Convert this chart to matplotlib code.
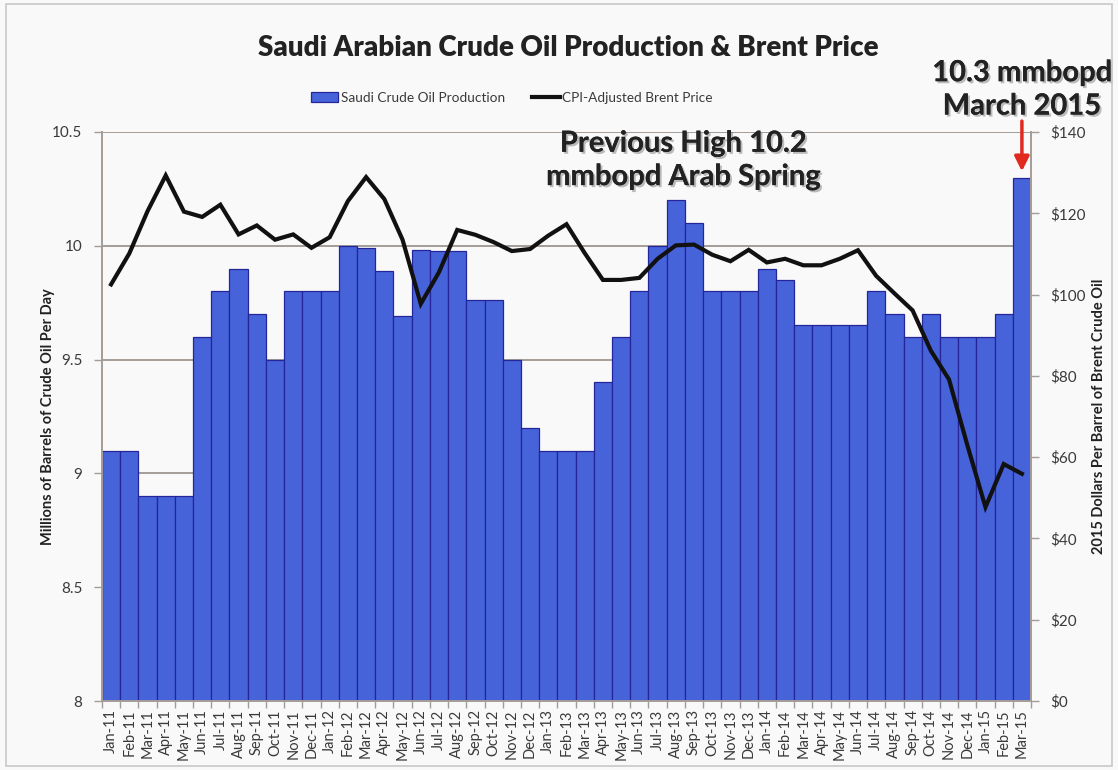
import matplotlib.pyplot as plt
import matplotlib.patheffects as pe
import numpy as np

plt.rcParams['font.family'] = ['Lato', 'DejaVu Sans']

# Data
months = [
    "Jan-11", "Feb-11", "Mar-11", "Apr-11", "May-11", "Jun-11", "Jul-11", "Aug-11",
    "Sep-11", "Oct-11", "Nov-11", "Dec-11", "Jan-12", "Feb-12", "Mar-12", "Apr-12",
    "May-12", "Jun-12", "Jul-12", "Aug-12", "Sep-12", "Oct-12", "Nov-12", "Dec-12",
    "Jan-13", "Feb-13", "Mar-13", "Apr-13", "May-13", "Jun-13", "Jul-13", "Aug-13",
    "Sep-13", "Oct-13", "Nov-13", "Dec-13", "Jan-14", "Feb-14", "Mar-14", "Apr-14",
    "May-14", "Jun-14", "Jul-14", "Aug-14", "Sep-14", "Oct-14", "Nov-14", "Dec-14",
    "Jan-15", "Feb-15", "Mar-15",
]
production = [
    9.10, 9.10, 8.90, 8.90, 8.90, 9.60, 9.80, 9.90,
    9.70, 9.50, 9.80, 9.80, 9.80, 10.00, 9.99, 9.89,
    9.69, 9.98, 9.975, 9.975, 9.76, 9.76, 9.50, 9.20,
    9.10, 9.10, 9.10, 9.40, 9.60, 9.80, 10.00, 10.20,
    10.10, 9.80, 9.80, 9.80, 9.90, 9.85, 9.65, 9.65,
    9.65, 9.65, 9.80, 9.70, 9.60, 9.70, 9.60, 9.60,
    9.60, 9.70, 10.30,
]
brent = [
    102.5, 110.1, 120.5, 129.3, 120.4, 119.1, 122.1, 114.8,
    117.0, 113.5, 114.8, 111.5, 114.1, 123.0, 128.9, 123.5,
    113.5, 97.7, 105.5, 115.9, 114.7, 112.9, 110.7, 111.2,
    114.5, 117.3, 110.2, 103.6, 103.6, 104.1, 108.8, 112.1,
    112.3, 109.8, 108.2, 111.0, 107.9, 108.8, 107.2, 107.2,
    108.8, 110.9, 104.6, 100.3, 96.1, 86.2, 79.1, 63.0,
    47.7, 58.3, 55.9,
]
left_ticks = [8, 8.5, 9, 9.5, 10, 10.5]
left_labels = ["8", "8.5", "9", "9.5", "10", "10.5"]
right_ticks = [0, 20, 40, 60, 80, 100, 120, 140]
right_labels = ["$0", "$20", "$40", "$60", "$80", "$100", "$120", "$140"]

bg = "#f9f9f9"
grid_col = "#a39c97"
text_col = "#3a3a3a"

fig = plt.figure(figsize=(11.18, 7.7), dpi=100, facecolor=bg)
# thin frame round the chart
fig.patches.append(plt.Rectangle((0.005, 0.005), 0.99, 0.99, transform=fig.transFigure,
                                 fill=False, edgecolor="#c8c8c8", linewidth=1.2))

ax = fig.add_axes([0.0912, 0.0896, 0.831, 0.739])
ax.set_facecolor(bg)
x = np.arange(len(months))
bars = ax.bar(x, production, width=1.0, color="#4763da", edgecolor="#25259a",
              linewidth=0.9, label="Saudi Crude Oil Production", zorder=2)
ax.set_xlim(-0.5, len(months) - 0.5)
ax.set_ylim(8, 10.5)
ax.set_yticks(left_ticks)
ax.set_yticklabels(left_labels, fontsize=11, color=text_col)
ax.yaxis.grid(True, color=grid_col, linewidth=1.4, zorder=0)
ax.set_axisbelow(True)
ax.set_xticks(x)
ax.set_xticklabels(months, rotation=90, fontsize=10.5, color=text_col)
ax.set_xticks(np.arange(len(months) + 1) - 0.5, minor=True)
ax.tick_params(axis="x", which="major", length=0, pad=6)
ax.tick_params(axis="x", which="minor", length=5, color=grid_col, width=1)
ax.tick_params(axis="y", length=6, color=grid_col, width=1, pad=8)
for side in ["top", "right"]:
    ax.spines[side].set_visible(False)
for side in ["left", "bottom"]:
    ax.spines[side].set_color(grid_col)
    ax.spines[side].set_linewidth(1.4)
ax.set_ylabel("Millions of Barrels of Crude Oil Per Day", fontsize=10.5,
              fontweight="bold", color="#222222", labelpad=-2)

ax2 = ax.twinx()
line, = ax2.plot(x, brent, color="#111111", linewidth=3, label="CPI-Adjusted Brent Price",
                 solid_joinstyle="miter", zorder=3)
ax2.set_ylim(0, 140)
ax2.set_yticks(right_ticks)
ax2.set_yticklabels(right_labels, fontsize=11, color=text_col)
ax2.tick_params(axis="y", length=6, color=grid_col, width=1, pad=8)
for side in ["top", "left", "bottom"]:
    ax2.spines[side].set_visible(False)
ax2.spines["right"].set_color(grid_col)
ax2.spines["right"].set_linewidth(1.4)
ax2.set_ylabel("2015 Dollars Per Barrel of Brent Crude Oil", fontsize=10.5,
               fontweight="bold", color="#222222", labelpad=4)

fig.text(0.508, 0.938, "Saudi Arabian Crude Oil Production & Brent Price",
         ha="center", va="center", fontsize=20, fontweight="heavy", color="#222222")
fig.legend([bars, line], ["Saudi Crude Oil Production", "CPI-Adjusted Brent Price"],
           loc="center", bbox_to_anchor=(0.458, 0.873), ncol=2, frameon=False,
           fontsize=9.8, handlelength=2.0, handletextpad=0.2, columnspacing=2.0,
           labelcolor=text_col)

shadow = [pe.withSimplePatchShadow(offset=(1.5, -1.5), shadow_rgbFace="#000000", alpha=0.25),
          pe.Normal()]
ax.text(31.4, 10.375, "Previous High 10.2\nmmbopd Arab Spring", ha="center", va="center",
        fontsize=21, fontweight="bold", color="#222222", linespacing=1.35, path_effects=shadow)
ax.text(50, 10.685, "10.3 mmbopd\nMarch 2015", ha="center", va="center",
        fontsize=21, fontweight="bold", color="#222222", linespacing=1.35,
        path_effects=shadow, clip_on=False)
ax.annotate("", xy=(50, 10.315), xytext=(50, 10.56), annotation_clip=False,
            arrowprops=dict(arrowstyle="-|>", color="#e02a20", linewidth=2.5,
                            mutation_scale=22))

fig.savefig("out.png", dpi=100, facecolor=bg)
